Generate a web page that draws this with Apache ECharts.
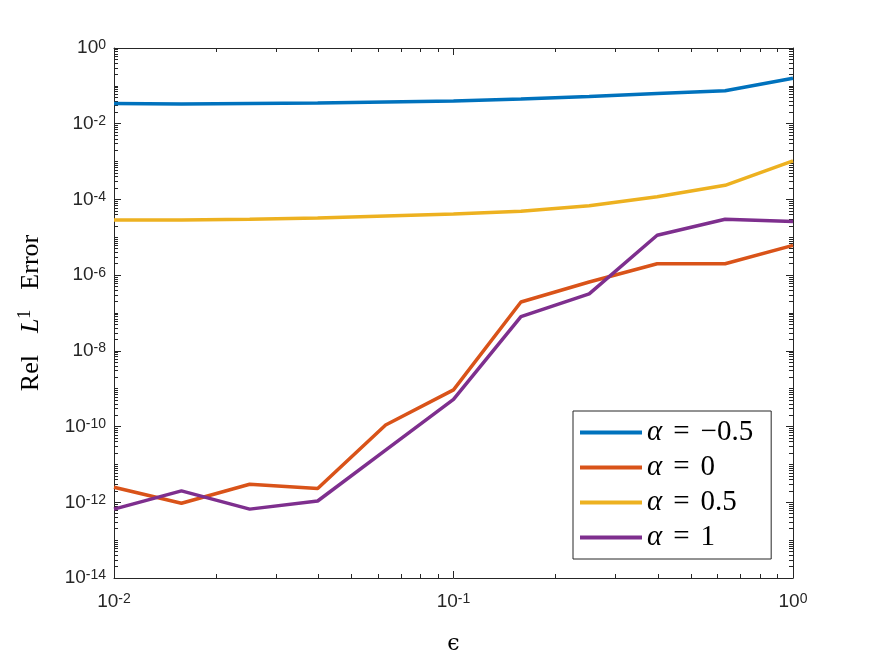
<!DOCTYPE html>
<html>
<head>
<meta charset="utf-8">
<script src="https://cdn.jsdelivr.net/npm/echarts@6/dist/echarts.min.js"></script>
<style>
  html, body { margin: 0; padding: 0; background: #fff; }
  #chart { width: 875px; height: 657px; }
</style>
</head>
<body>
<div id="chart"></div>
<script>
// epsilon sample points (x) and relative L1 error for each alpha
const epsValues = [0.01, 0.0158, 0.0251, 0.0398, 0.0631, 0.1, 0.158, 0.251, 0.398, 0.631, 1];
const alphaLabels = ['−0.5', '0', '0.5', '1'];
const errAlphaNeg05 = [0.034, 0.033, 0.034, 0.035, 0.0375, 0.040, 0.045, 0.052, 0.063, 0.074, 0.158];
const errAlpha0 = [2.5e-12, 9.4e-13, 3.0e-12, 2.3e-12, 1.1e-10, 9.3e-10, 1.95e-7, 6.6e-7, 2.0e-6, 2.0e-6, 6.1e-6];
const errAlpha05 = [2.86e-5, 2.86e-5, 2.99e-5, 3.24e-5, 3.66e-5, 4.1e-5, 4.9e-5, 6.8e-5, 1.17e-4, 2.36e-4, 1.04e-3];
const errAlpha1 = [6.6e-13, 2.0e-12, 6.6e-13, 1.08e-12, 2.4e-11, 5.2e-10, 8.0e-8, 3.2e-7, 1.13e-5, 3.0e-5, 2.6e-5];

// axis ranges (exponents)
const xExpRange = [-2, 0];
const yExpRange = [-14, 0];

const colors = ['#0072BD', '#D95319', '#EDB120', '#7E2F8E'];
const axisColor = '#262626';

const chart = echarts.init(document.getElementById('chart'));

// minor tick positions in exponent space: every decade and 2..9 within it
const minorTicks = ([lo, hi]) => {
  const out = [];
  for (let k = lo; k < hi; k++) {
    for (let m = 1; m <= 9; m++) out.push(k + Math.log10(m));
  }
  out.push(hi);
  return out;
};

const tickRich = {
  b: { fontFamily: 'Liberation Sans', fontSize: 19, lineHeight: 19, color: axisColor, verticalAlign: 'bottom', padding: [4, 0, 0, 0] },
  s: { fontFamily: 'Liberation Sans', fontSize: 14, lineHeight: 14, color: axisColor, verticalAlign: 'top' }
};
const powLabel = (v) => `{b|10}{s|${Math.round(Math.log10(v))}}`;

const majorAxis = (pos, range, interval, extra) => Object.assign({
  type: 'log',
  logBase: 10,
  min: Math.pow(10, range[0]),
  max: Math.pow(10, range[1]),
  interval,
  position: pos,
  axisLine: { show: true, onZero: false, lineStyle: { color: axisColor, width: 1 } },
  axisTick: { show: true, inside: true, length: 7, lineStyle: { color: axisColor, width: 1 } },
  axisLabel: { show: false },
  splitLine: { show: false },
  minorTick: { show: false }
}, extra);

const minorAxis = (pos, range) => ({
  type: 'value',
  min: range[0],
  max: range[1],
  position: pos,
  axisLine: { show: false, onZero: false },
  axisTick: { show: true, inside: true, length: 4, customValues: minorTicks(range), lineStyle: { color: axisColor, width: 1 } },
  axisLabel: { show: false },
  splitLine: { show: false }
});

const seriesData = [errAlphaNeg05, errAlpha0, errAlpha05, errAlpha1];
const names = alphaLabels.map((a) => `α = ${a}`);

chart.setOption({
  animation: false,
  backgroundColor: '#fff',
  grid: { left: 114, right: 82, top: 48, bottom: 79, containLabel: false, outerBoundsMode: 'none' },
  xAxis: [
    majorAxis('bottom', xExpRange, 1, {
      axisLabel: { show: true, margin: 14, showMinLabel: true, showMaxLabel: true, formatter: powLabel, rich: tickRich },
      name: '{e|ϵ}',
      nameLocation: 'middle',
      nameGap: 55,
      nameTextStyle: { rich: { e: { fontFamily: 'DejaVu Serif', fontSize: 22, color: '#000' } } }
    }),
    majorAxis('top', xExpRange, 1),
    minorAxis('bottom', xExpRange),
    minorAxis('top', xExpRange)
  ],
  yAxis: [
    majorAxis('left', yExpRange, 2, {
      axisLabel: { show: true, margin: 8, showMinLabel: true, showMaxLabel: true, formatter: powLabel, rich: tickRich },
      name: '{r|Rel}{i|L}{s|1}{w|Error}',
      nameLocation: 'middle',
      nameGap: 70,
      nameTextStyle: {
        rich: {
          r: { fontFamily: 'Liberation Serif', fontSize: 26, lineHeight: 28, color: '#000', verticalAlign: 'bottom' },
          i: { fontFamily: 'Liberation Serif', fontStyle: 'italic', fontSize: 26, lineHeight: 28, color: '#000', verticalAlign: 'bottom', padding: [0, 0, 0, 22] },
          s: { fontFamily: 'Liberation Serif', fontSize: 18, lineHeight: 18, color: '#000', verticalAlign: 'top' },
          w: { fontFamily: 'Liberation Serif', fontSize: 26, lineHeight: 28, color: '#000', verticalAlign: 'bottom', padding: [0, 0, 0, 20] }
        }
      }
    }),
    majorAxis('right', yExpRange, 2),
    minorAxis('left', yExpRange),
    minorAxis('right', yExpRange)
  ],
  legend: {
    orient: 'vertical',
    left: 573,
    top: 411,
    padding: [7, 18, 7, 7],
    itemGap: 6,
    itemWidth: 62,
    itemHeight: 4,
    icon: 'rect',
    backgroundColor: '#fff',
    borderColor: axisColor,
    borderWidth: 1,
    borderRadius: 0,
    data: names,
    formatter: (name) => {
      const v = name.split('= ')[1];
      return `{a|α}{e|=}{t|${v}}`;
    },
    textStyle: {
      rich: {
        a: { fontFamily: 'Liberation Serif', fontStyle: 'italic', fontSize: 29, lineHeight: 28, color: '#000' },
        e: { fontFamily: 'Liberation Serif', fontSize: 29, lineHeight: 28, color: '#000', padding: [0, 11, 0, 11] },
        t: { fontFamily: 'Liberation Serif', fontSize: 29, lineHeight: 28, color: '#000' }
      }
    }
  },
  series: seriesData.map((vals, i) => ({
    name: names[i],
    type: 'line',
    xAxisIndex: 0,
    yAxisIndex: 0,
    showSymbol: false,
    symbol: 'none',
    color: colors[i],
    lineStyle: { color: colors[i], width: 3.5 },
    data: vals.map((v, j) => [epsValues[j], v])
  }))
});

window.addEventListener('resize', () => chart.resize());
</script>
</body>
</html>
